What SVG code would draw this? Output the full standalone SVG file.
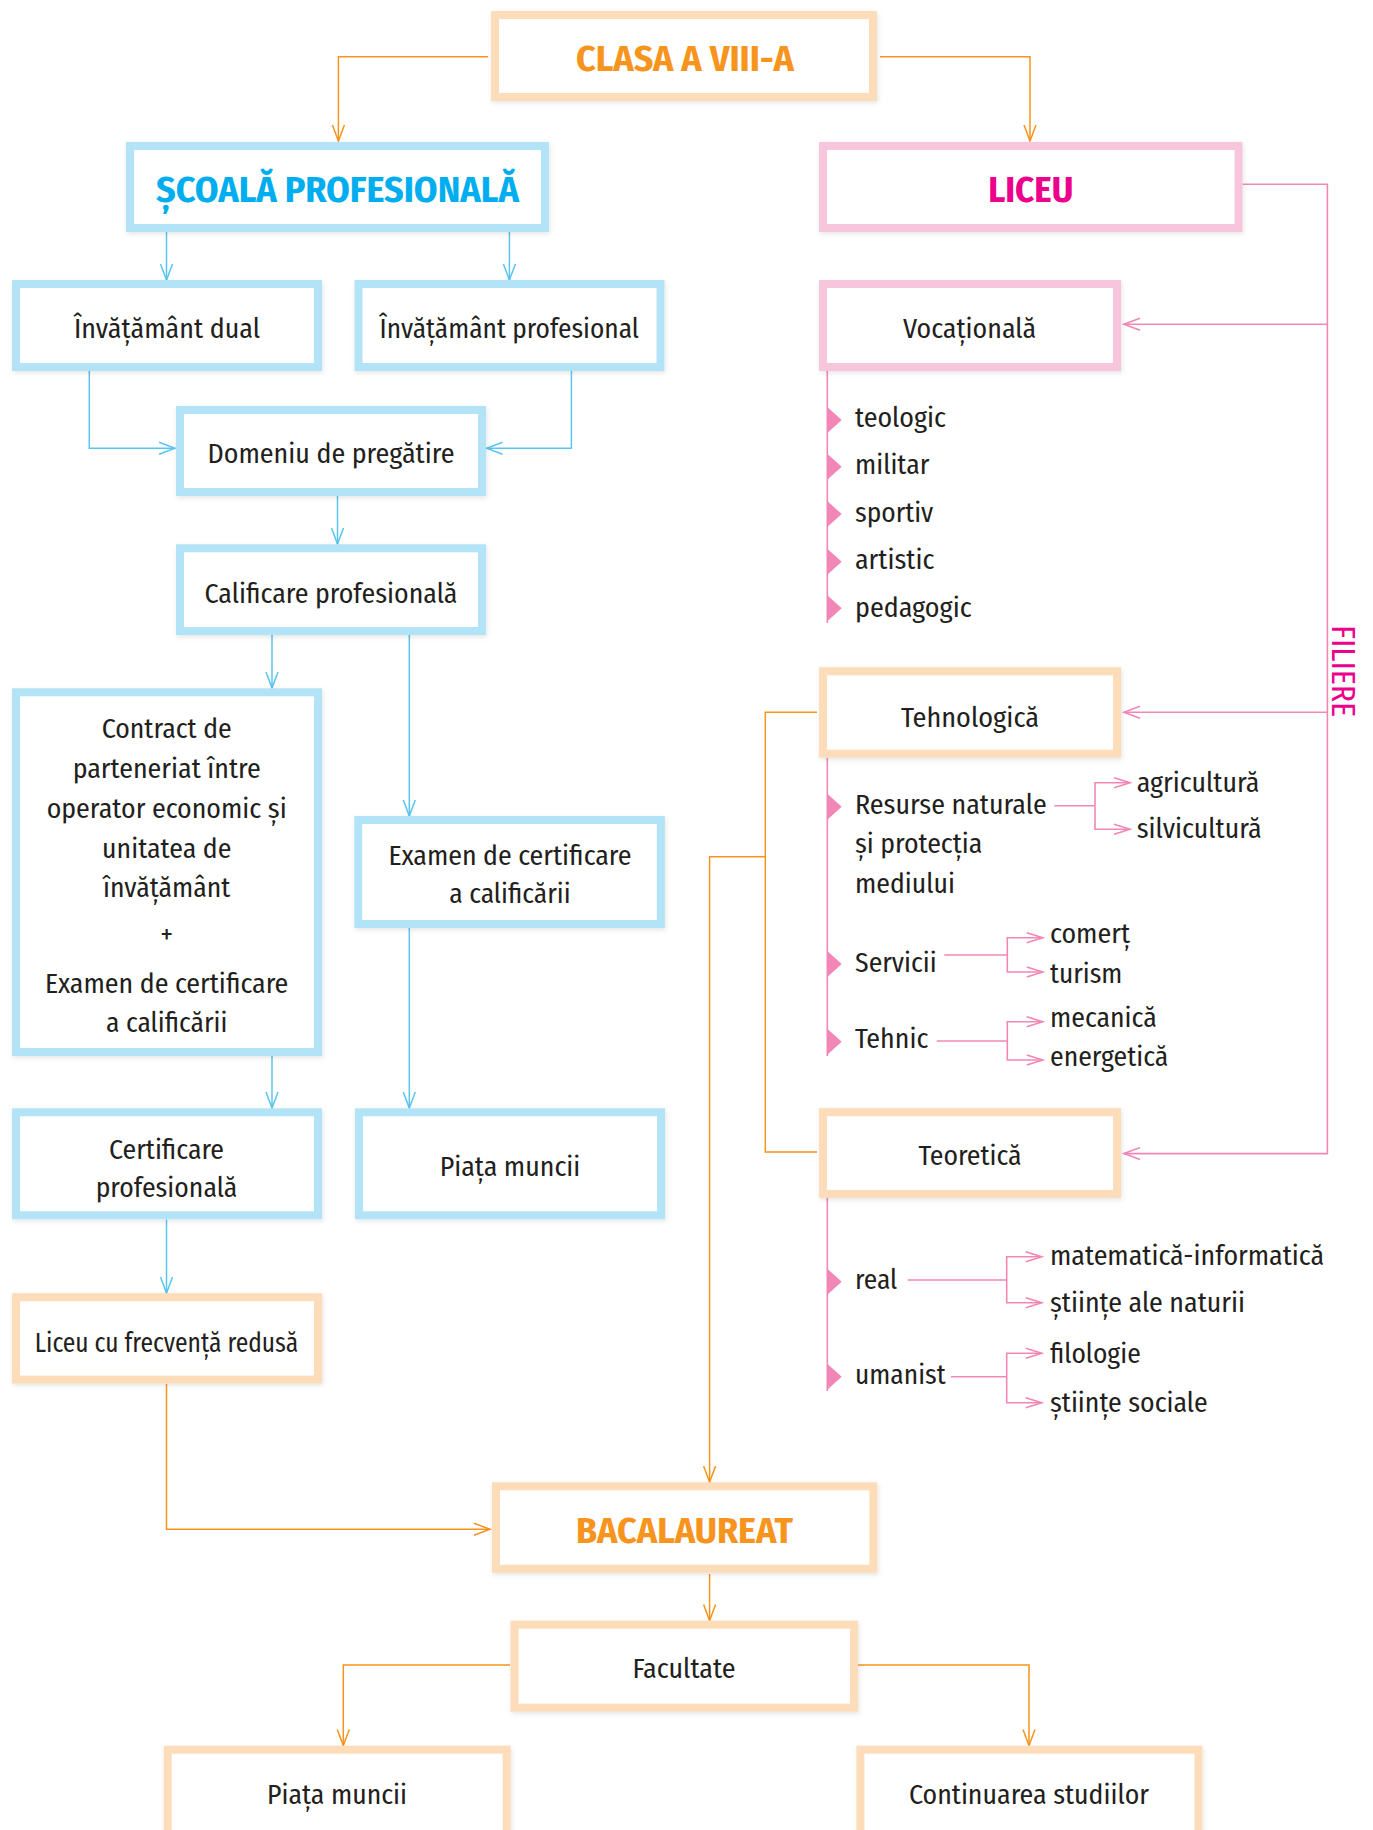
<svg xmlns="http://www.w3.org/2000/svg" width="1373" height="1830" viewBox="0 0 1373 1830">
<defs>
<style>
.box{fill:#fff;stroke-width:8;filter:url(#sh)}
.blue{stroke:#B3E3F7}
.pink{stroke:#F7C6DC}
.peach{stroke:#FDDCB9}
.t{font-family:"Fira Sans Condensed","Fira Sans",Roboto,"Noto Sans",sans-serif;font-size:28px;fill:#231F20}
.c{text-anchor:middle}
.h{font-size:36px;font-weight:700}
.hb{fill:#00AEEF}
.ho{fill:#F7941D}
.hm{fill:#EC008C}
.ln{fill:none;stroke-width:1.5}
.lb{stroke:#5BC4EF}
.lo{stroke:#F7941D}
.lp{stroke:#F287B7;stroke-width:1.6}
.bul{fill:#F287B7}
</style>
<filter id="sh" x="-10%" y="-10%" width="120%" height="130%">
<feDropShadow dx="1" dy="2" stdDeviation="2.5" flood-color="#000" flood-opacity="0.10"/>
</filter>
<marker id="ab" markerUnits="userSpaceOnUse" markerWidth="20" markerHeight="14" refX="17" refY="7" orient="auto"><path d="M1,1 L17,7 L1,13" fill="none" stroke="#5BC4EF" stroke-width="1.5"/></marker>
<marker id="ao" markerUnits="userSpaceOnUse" markerWidth="20" markerHeight="14" refX="17" refY="7" orient="auto"><path d="M1,1 L17,7 L1,13" fill="none" stroke="#F7941D" stroke-width="1.5"/></marker>
<marker id="ap" markerUnits="userSpaceOnUse" markerWidth="20" markerHeight="14" refX="17" refY="7" orient="auto"><path d="M1,1 L17,7 L1,13" fill="none" stroke="#F287B7" stroke-width="1.6"/></marker>
<marker id="ap2" markerUnits="userSpaceOnUse" markerWidth="20" markerHeight="12" refX="17" refY="6" orient="auto"><path d="M1,1 L17,6 L1,11" fill="none" stroke="#F287B7" stroke-width="1.6"/></marker>
</defs>
<rect width="1373" height="1830" fill="#fff"/>

<g id="connectors">
<!-- orange -->
<path class="ln lo" d="M488,56.7 H338.4 V141" marker-end="url(#ao)"/>
<path class="ln lo" d="M880,56.7 H1030 V141" marker-end="url(#ao)"/>
<path class="ln lo" d="M166.5,1384 V1529.3 H490" marker-end="url(#ao)"/>
<path class="ln lo" d="M817,712.3 H765.3 V1152 H817"/>
<path class="ln lo" d="M765.3,856.7 H709.6 V1482" marker-end="url(#ao)"/>
<path class="ln lo" d="M709.6,1574 V1620.5" marker-end="url(#ao)"/>
<path class="ln lo" d="M510,1665 H343.3 V1745.5" marker-end="url(#ao)"/>
<path class="ln lo" d="M858,1665 H1029 V1745.5" marker-end="url(#ao)"/>
<!-- blue -->
<path class="ln lb" d="M166.5,232 V280" marker-end="url(#ab)"/>
<path class="ln lb" d="M509.4,232 V280" marker-end="url(#ab)"/>
<path class="ln lb" d="M89.3,371 V448.3 H175" marker-end="url(#ab)"/>
<path class="ln lb" d="M571.4,371 V448.3 H486.6" marker-end="url(#ab)"/>
<path class="ln lb" d="M337.5,496 V544" marker-end="url(#ab)"/>
<path class="ln lb" d="M272,635 V688" marker-end="url(#ab)"/>
<path class="ln lb" d="M409.3,635 V816" marker-end="url(#ab)"/>
<path class="ln lb" d="M272,1056 V1108" marker-end="url(#ab)"/>
<path class="ln lb" d="M409.3,928 V1108" marker-end="url(#ab)"/>
<path class="ln lb" d="M166.5,1219.5 V1293" marker-end="url(#ab)"/>
<!-- pink filiere -->
<path class="ln lp" d="M1242.5,184.3 H1327.4 V1153.6 H1124" marker-end="url(#ap)"/>
<path class="ln lp" d="M1327.4,324.3 H1124" marker-end="url(#ap)"/>
<path class="ln lp" d="M1327.4,712.3 H1124" marker-end="url(#ap)"/>
<!-- list lines -->
<path class="ln lp" d="M827.3,371 V623"/>
<path class="ln lp" d="M827.3,758 V1056"/>
<path class="ln lp" d="M827.3,1198 V1391"/>
<!-- sub branches -->
<path class="ln lp" d="M1054.3,805.7 H1095"/>
<path class="ln lp" d="M1095,805.7 V782.7 H1130" marker-end="url(#ap2)"/>
<path class="ln lp" d="M1095,805.7 V829.3 H1130" marker-end="url(#ap2)"/>
<path class="ln lp" d="M944.3,955 H1007.3"/>
<path class="ln lp" d="M1007.3,955 V937.7 H1042.7" marker-end="url(#ap2)"/>
<path class="ln lp" d="M1007.3,955 V972 H1042.7" marker-end="url(#ap2)"/>
<path class="ln lp" d="M936.7,1041 H1007.3"/>
<path class="ln lp" d="M1007.3,1041 V1021.7 H1042.7" marker-end="url(#ap2)"/>
<path class="ln lp" d="M1007.3,1041 V1060 H1042.7" marker-end="url(#ap2)"/>
<path class="ln lp" d="M907.7,1280 H1006.7"/>
<path class="ln lp" d="M1006.7,1280 V1256.7 H1041.7" marker-end="url(#ap2)"/>
<path class="ln lp" d="M1006.7,1280 V1302.7 H1041.7" marker-end="url(#ap2)"/>
<path class="ln lp" d="M951,1376.7 H1006.7"/>
<path class="ln lp" d="M1006.7,1376.7 V1353.3 H1041.7" marker-end="url(#ap2)"/>
<path class="ln lp" d="M1006.7,1376.7 V1402.7 H1041.7" marker-end="url(#ap2)"/>
</g>

<g id="clasa">
<rect class="box peach" x="495" y="15" width="378" height="82"/>
<text class="t c h ho" x="685" y="71" textLength="218" lengthAdjust="spacingAndGlyphs">CLASA A VIII-A</text>
</g>
<g id="scoala">
<rect class="box blue" x="130" y="146" width="415" height="82"/>
<text class="t c h hb" x="337.5" y="201.7" textLength="363" lengthAdjust="spacingAndGlyphs">ȘCOALĂ PROFESIONALĂ</text>
</g>
<g id="liceu">
<rect class="box pink" x="823" y="146" width="415.5" height="82"/>
<text class="t c h hm" x="1030.7" y="201.7" textLength="85" lengthAdjust="spacingAndGlyphs">LICEU</text>
</g>
<g id="filiere">
<text class="t c hm" transform="translate(1332,671) rotate(90)" x="0" y="0" style="font-size:33px" textLength="92" lengthAdjust="spacingAndGlyphs">FILIERE</text>
</g>
<g id="inv-dual">
<rect class="box blue" x="16" y="284" width="302" height="83"/>
<text class="t c" x="167" y="338.3" textLength="186" lengthAdjust="spacingAndGlyphs">Învățământ dual</text>
</g>
<g id="inv-prof">
<rect class="box blue" x="358.5" y="284" width="302" height="83"/>
<text class="t c" x="509.3" y="338.3" textLength="259.5" lengthAdjust="spacingAndGlyphs">Învățământ profesional</text>
</g>
<g id="vocationala">
<rect class="box pink" x="823" y="284" width="294" height="83"/>
<text class="t c" x="969.6" y="338.3" textLength="133" lengthAdjust="spacingAndGlyphs">Vocațională</text>
</g>
<g id="voc-list">
<path class="bul" d="M827.3,407 L841.7,420 L827.3,433 Z"/>
<path class="bul" d="M827.3,453.7 L841.7,466.7 L827.3,479.7 Z"/>
<path class="bul" d="M827.3,501 L841.7,514 L827.3,527 Z"/>
<path class="bul" d="M827.3,548.7 L841.7,561.7 L827.3,574.7 Z"/>
<path class="bul" d="M827.3,595.3 L841.7,608.3 L827.3,621.3 Z"/>
<text class="t" x="855" y="426.7" textLength="91" lengthAdjust="spacingAndGlyphs">teologic</text>
<text class="t" x="855" y="474" textLength="74.3" lengthAdjust="spacingAndGlyphs">militar</text>
<text class="t" x="855" y="521.7" textLength="78.3" lengthAdjust="spacingAndGlyphs">sportiv</text>
<text class="t" x="855" y="569" textLength="79.3" lengthAdjust="spacingAndGlyphs">artistic</text>
<text class="t" x="855" y="616.7" textLength="116.7" lengthAdjust="spacingAndGlyphs">pedagogic</text>
</g>
<g id="domeniu">
<rect class="box blue" x="180" y="410" width="302" height="82"/>
<text class="t c" x="331" y="463.3" textLength="247" lengthAdjust="spacingAndGlyphs">Domeniu de pregătire</text>
</g>
<g id="calificare">
<rect class="box blue" x="180" y="548.3" width="302" height="82.7"/>
<text class="t c" x="331" y="602.7" textLength="253" lengthAdjust="spacingAndGlyphs">Calificare profesională</text>
</g>
<g id="contract">
<rect class="box blue" x="16" y="692.3" width="302" height="359.7"/>
<text class="t c" x="166.7" y="738.3" textLength="130" lengthAdjust="spacingAndGlyphs">Contract de</text>
<text class="t c" x="166.7" y="778.3" textLength="188" lengthAdjust="spacingAndGlyphs">parteneriat între</text>
<text class="t c" x="166.7" y="817.7" textLength="240" lengthAdjust="spacingAndGlyphs">operator economic și</text>
<text class="t c" x="166.7" y="857.7" textLength="129.3" lengthAdjust="spacingAndGlyphs">unitatea de</text>
<text class="t c" x="166.7" y="897.3" textLength="127.3" lengthAdjust="spacingAndGlyphs">învățământ</text>
<text class="t c" x="166.7" y="944" style="font-size:28px">+</text>
<text class="t c" x="166.7" y="993.3" textLength="243.3" lengthAdjust="spacingAndGlyphs">Examen de certificare</text>
<text class="t c" x="166.7" y="1031.7" textLength="121.3" lengthAdjust="spacingAndGlyphs">a calificării</text>
</g>
<g id="examen">
<rect class="box blue" x="358.3" y="820" width="302.5" height="104"/>
<text class="t c" x="510" y="865" textLength="243" lengthAdjust="spacingAndGlyphs">Examen de certificare</text>
<text class="t c" x="510" y="903.3" textLength="121.3" lengthAdjust="spacingAndGlyphs">a calificării</text>
</g>
<g id="tehnologica">
<rect class="box peach" x="823" y="671.3" width="294" height="82.4"/>
<text class="t c" x="970" y="726.7" textLength="138" lengthAdjust="spacingAndGlyphs">Tehnologică</text>
</g>
<g id="teh-list">
<path class="bul" d="M827.3,793.7 L841.7,806.7 L827.3,819.7 Z"/>
<path class="bul" d="M827.3,951 L841.7,964 L827.3,977 Z"/>
<path class="bul" d="M827.3,1028.7 L841.7,1041.7 L827.3,1054.7 Z"/>
<text class="t" x="855" y="814" textLength="191.7" lengthAdjust="spacingAndGlyphs">Resurse naturale</text>
<text class="t" x="855" y="853.3" textLength="127.3" lengthAdjust="spacingAndGlyphs">și protecția</text>
<text class="t" x="855" y="893.3" textLength="100" lengthAdjust="spacingAndGlyphs">mediului</text>
<text class="t" x="855" y="971.7" textLength="81.7" lengthAdjust="spacingAndGlyphs">Servicii</text>
<text class="t" x="855" y="1048.3" textLength="73.3" lengthAdjust="spacingAndGlyphs">Tehnic</text>
<text class="t" x="1136.7" y="791.7" textLength="122.7" lengthAdjust="spacingAndGlyphs">agricultură</text>
<text class="t" x="1136.7" y="838.3" textLength="125" lengthAdjust="spacingAndGlyphs">silvicultură</text>
<text class="t" x="1050" y="943.3" textLength="80" lengthAdjust="spacingAndGlyphs">comerț</text>
<text class="t" x="1050" y="982.7" textLength="72.3" lengthAdjust="spacingAndGlyphs">turism</text>
<text class="t" x="1050" y="1027.3" textLength="106.7" lengthAdjust="spacingAndGlyphs">mecanică</text>
<text class="t" x="1050" y="1066" textLength="118.3" lengthAdjust="spacingAndGlyphs">energetică</text>
</g>
<g id="teoretica">
<rect class="box peach" x="823" y="1112.2" width="294" height="81.7"/>
<text class="t c" x="970" y="1165.4" textLength="103" lengthAdjust="spacingAndGlyphs">Teoretică</text>
</g>
<g id="teo-list">
<path class="bul" d="M827.3,1268.7 L841.7,1281.7 L827.3,1294.7 Z"/>
<path class="bul" d="M827.3,1363.7 L841.7,1376.7 L827.3,1389.7 Z"/>
<text class="t" x="855" y="1289" textLength="42.3" lengthAdjust="spacingAndGlyphs">real</text>
<text class="t" x="855" y="1384" textLength="90.7" lengthAdjust="spacingAndGlyphs">umanist</text>
<text class="t" x="1050" y="1265" textLength="274" lengthAdjust="spacingAndGlyphs">matematică-informatică</text>
<text class="t" x="1050" y="1311.7" textLength="195" lengthAdjust="spacingAndGlyphs">științe ale naturii</text>
<text class="t" x="1050" y="1363.3" textLength="90.7" lengthAdjust="spacingAndGlyphs">filologie</text>
<text class="t" x="1050" y="1411.7" textLength="157.7" lengthAdjust="spacingAndGlyphs">științe sociale</text>
</g>
<g id="certificare">
<rect class="box blue" x="16" y="1112.3" width="302" height="103"/>
<text class="t c" x="166.5" y="1159.3" textLength="115" lengthAdjust="spacingAndGlyphs">Certificare</text>
<text class="t c" x="166.5" y="1196.7" textLength="141.7" lengthAdjust="spacingAndGlyphs">profesională</text>
</g>
<g id="piata-muncii-1">
<rect class="box blue" x="359" y="1112.3" width="302" height="103"/>
<text class="t c" x="510" y="1176" textLength="140.7" lengthAdjust="spacingAndGlyphs">Piața muncii</text>
</g>
<g id="liceu-frecventa">
<rect class="box peach" x="16" y="1297.2" width="302" height="82.4"/>
<text class="t c" x="166.5" y="1352" textLength="263.4" lengthAdjust="spacingAndGlyphs">Liceu cu frecvență redusă</text>
</g>
<g id="bacalaureat">
<rect class="box peach" x="496" y="1486.3" width="377.4" height="82.4"/>
<text class="t c h ho" x="684.5" y="1542.7" textLength="217" lengthAdjust="spacingAndGlyphs">BACALAUREAT</text>
</g>
<g id="facultate">
<rect class="box peach" x="514.5" y="1624.7" width="339.5" height="83"/>
<text class="t c" x="684" y="1678.3" textLength="103" lengthAdjust="spacingAndGlyphs">Facultate</text>
</g>
<g id="piata-muncii-2">
<rect class="box peach" x="167.7" y="1749.7" width="339" height="100"/>
<text class="t c" x="337" y="1804" textLength="140" lengthAdjust="spacingAndGlyphs">Piața muncii</text>
</g>
<g id="continuarea">
<rect class="box peach" x="860.4" y="1749.7" width="338" height="100"/>
<text class="t c" x="1029" y="1804" textLength="240" lengthAdjust="spacingAndGlyphs">Continuarea studiilor</text>
</g>
</svg>
